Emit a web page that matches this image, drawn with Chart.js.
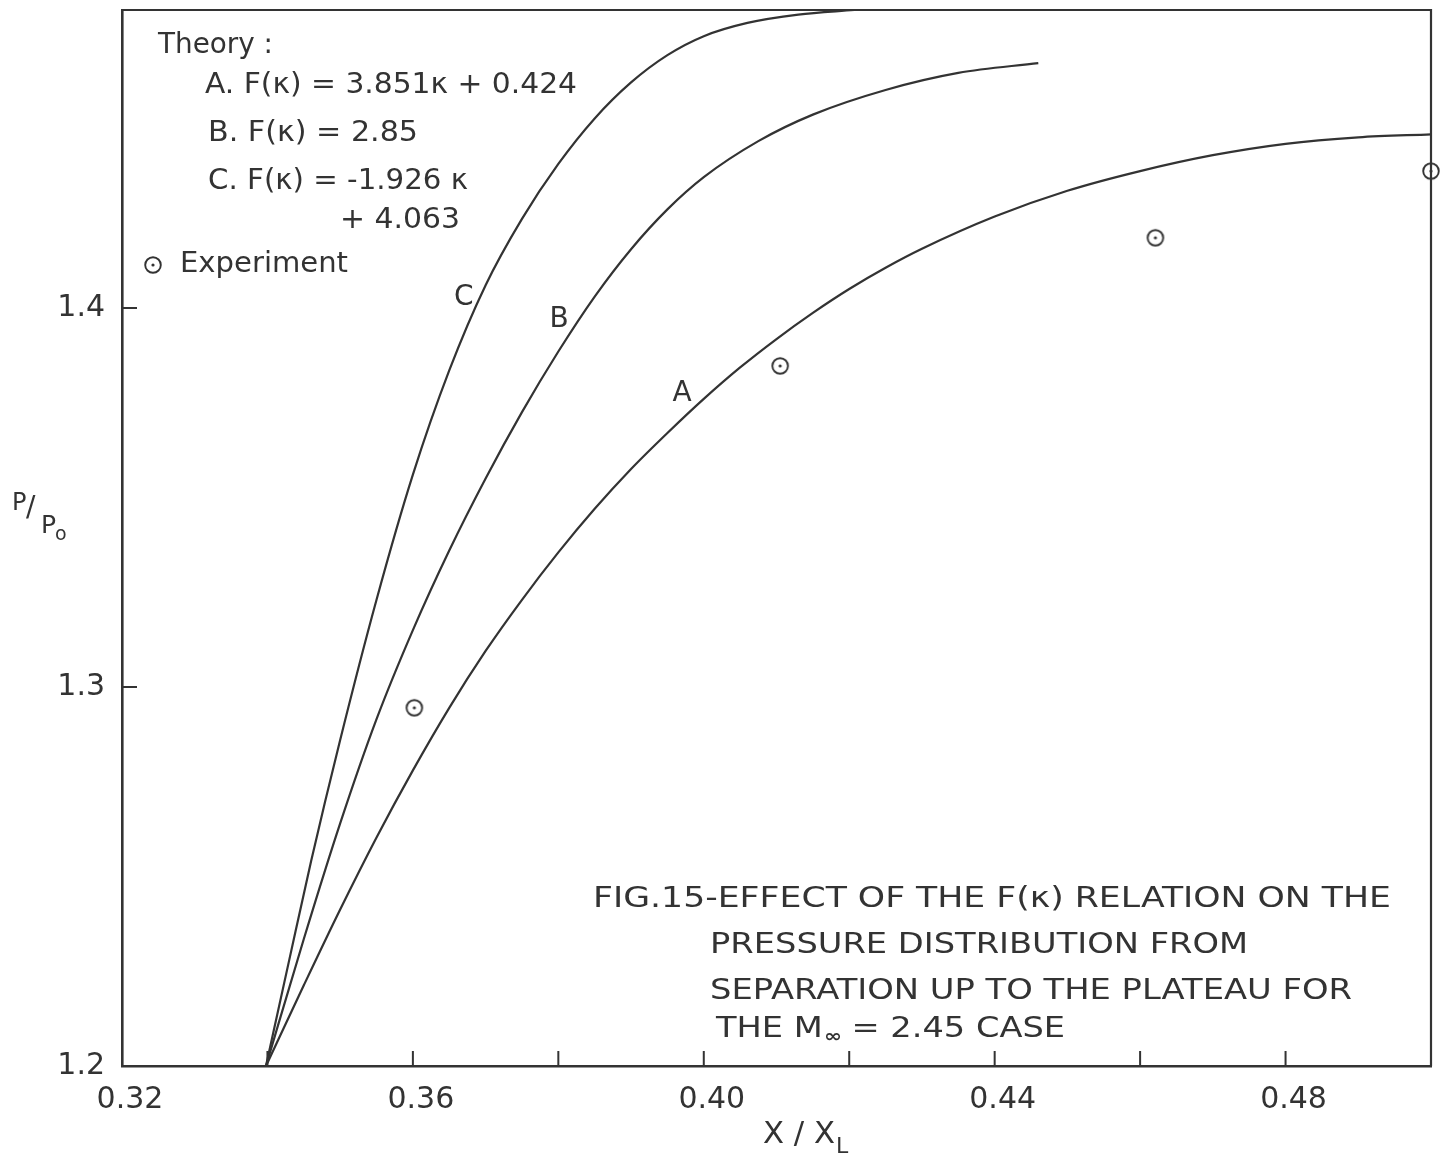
<!DOCTYPE html>
<html>
<head>
<meta charset="utf-8">
<title>Fig. 15 — Effect of the F(κ) relation on the pressure distribution</title>
<script src="https://cdn.jsdelivr.net/npm/chart.js@4.4.1/dist/chart.umd.min.js"></script>
<style>
  html, body { margin: 0; padding: 0; background: #ffffff; }
  #wrap { width: 1442px; height: 1158px; position: relative; }
</style>
</head>
<body>
<div id="wrap"><canvas id="chart" width="1442" height="1158"></canvas></div>
<script>
// ---- data: P/P0 against X/XL ----
const xTickLabels = [0.32, 0.36, 0.40, 0.44, 0.48];
const yTickLabels = [1.2, 1.3, 1.4];

// Theory, curve A: F(κ) = 3.851κ + 0.424
const curveA_x = [0.3398, 0.3450, 0.3500, 0.3550, 0.3600, 0.3650, 0.3700, 0.3750, 0.3800, 0.3850, 0.3900, 0.3950, 0.4000, 0.4050, 0.4100, 0.4150, 0.4200, 0.4250, 0.4300, 0.4400, 0.4500, 0.4600, 0.4700, 0.4800, 0.4900, 0.5000];
const curveA_y = [1.2000, 1.2213, 1.2413, 1.2603, 1.2780, 1.2945, 1.3095, 1.3230, 1.3355, 1.3470, 1.3575, 1.3670, 1.3760, 1.3843, 1.3918, 1.3987, 1.4050, 1.4106, 1.4156, 1.4241, 1.4309, 1.4361, 1.4403, 1.4433, 1.4450, 1.4458];

// Theory, curve B: F(κ) = 2.85
const curveB_x = [0.3398, 0.3450, 0.3500, 0.3550, 0.3600, 0.3650, 0.3700, 0.3750, 0.3800, 0.3850, 0.3900, 0.3950, 0.4000, 0.4075, 0.4150, 0.4250, 0.4350, 0.4460];
const curveB_y = [1.2000, 1.2335, 1.2640, 1.2915, 1.3150, 1.3360, 1.3550, 1.3725, 1.3885, 1.4030, 1.4155, 1.4260, 1.4345, 1.4440, 1.4510, 1.4575, 1.4620, 1.4646];

// Theory, curve C: F(κ) = -1.926κ + 4.063
const curveC_x = [0.3398, 0.3430, 0.3460, 0.3500, 0.3550, 0.3600, 0.3650, 0.3700, 0.3750, 0.3800, 0.3850, 0.3900, 0.3950, 0.4000, 0.4060, 0.4130, 0.4207];
const curveC_y = [1.2000, 1.2280, 1.2540, 1.2860, 1.3230, 1.3560, 1.3835, 1.4060, 1.4235, 1.4380, 1.4500, 1.4595, 1.4667, 1.4717, 1.4752, 1.4774, 1.4786];

// Experiment
const expX = [0.3602, 0.4105, 0.4621, 0.5000];
const expY = [1.2945, 1.3847, 1.4185, 1.4361];

// ---- styling ----
const INK = '#333333';
const FONT = '"DejaVu Sans", "Liberation Sans", sans-serif';

const toPoints = (xs, ys) => xs.map((x, i) => ({ x: x, y: ys[i] }));

// circle-with-dot marker for the experimental points
const marker = document.createElement('canvas');
marker.width = 22; marker.height = 22;
(function () {
  const g = marker.getContext('2d');
  g.strokeStyle = INK; g.lineWidth = 1.9;
  g.beginPath(); g.arc(11, 11, 7.8, 0, Math.PI * 2); g.stroke();
  g.fillStyle = INK;
  g.beginPath(); g.arc(11, 11, 1.6, 0, Math.PI * 2); g.fill();
})();

const near = (v, list) => list.some(t => Math.abs(t - v) < 1e-6);

// text drawn to a set width (hand-lettered look is slightly condensed/expanded)
function fitText(ctx, str, x, y, w) {
  const m = ctx.measureText(str).width;
  ctx.save();
  ctx.translate(x, y);
  ctx.scale(w / m, 1);
  ctx.fillText(str, 0, 0);
  ctx.restore();
}

// frame on top/right and inward tick marks
const framePlugin = {
  id: 'frameTicks',
  afterDatasetsDraw(chart) {
    const { ctx, chartArea: a, scales } = chart;
    ctx.save();
    ctx.strokeStyle = INK;
    ctx.lineWidth = 2.2;
    ctx.beginPath();
    ctx.moveTo(a.left, a.top); ctx.lineTo(a.right, a.top); ctx.lineTo(a.right, a.bottom);
    ctx.stroke();
    ctx.lineWidth = 2;
    ctx.beginPath();
    scales.x.ticks.forEach(t => {
      if (t.value > scales.x.min + 1e-6 && t.value < scales.x.max - 1e-6) {
        const px = scales.x.getPixelForValue(t.value);
        ctx.moveTo(px, a.bottom); ctx.lineTo(px, a.bottom - 15);
      }
    });
    scales.y.ticks.forEach(t => {
      if (t.value > scales.y.min + 1e-6 && t.value < scales.y.max - 1e-6) {
        const py = scales.y.getPixelForValue(t.value);
        ctx.moveTo(a.left, py); ctx.lineTo(a.left + 15, py);
      }
    });
    ctx.stroke();
    ctx.restore();
  }
};

// legend, curve letters, axis titles and figure caption
const textPlugin = {
  id: 'figureText',
  afterDraw(chart) {
    const { ctx, scales } = chart;
    ctx.save();
    ctx.fillStyle = INK;
    ctx.textBaseline = 'alphabetic';
    ctx.textAlign = 'left';

    // legend block
    ctx.font = '28px ' + FONT;
    fitText(ctx, 'Theory :', 158, 53, 115);
    fitText(ctx, 'A. F(κ) = 3.851κ + 0.424', 205, 93, 372);
    fitText(ctx, 'B. F(κ) = 2.85', 208, 141, 210);
    fitText(ctx, 'C. F(κ) = -1.926 κ', 208, 189, 260);
    fitText(ctx, '+ 4.063', 340, 228, 120);
    ctx.drawImage(marker, 153 - 11, 265 - 11);
    fitText(ctx, 'Experiment', 180, 272, 168);

    // curve letters, placed in data coordinates
    ctx.font = '28px ' + FONT;
    ctx.textAlign = 'center';
    ctx.textBaseline = 'middle';
    const lab = (s, x, y) => ctx.fillText(s, scales.x.getPixelForValue(x), scales.y.getPixelForValue(y));
    lab('C', 0.3670, 1.4026);
    lab('B', 0.3801, 1.3968);
    lab('A', 0.3970, 1.3773);

    // axis titles
    ctx.textAlign = 'left';
    ctx.textBaseline = 'alphabetic';
    ctx.font = '30px ' + FONT;
    fitText(ctx, 'X / X', 763, 1143, 72);
    ctx.font = '22px ' + FONT;
    ctx.fillText('L', 836, 1153);

    ctx.font = '24px ' + FONT;
    ctx.fillText('P', 12, 510);
    ctx.font = '28px ' + FONT;
    ctx.fillText('/', 26, 516);
    ctx.font = '25px ' + FONT;
    ctx.fillText('P', 41, 533);
    ctx.font = '19px ' + FONT;
    ctx.fillText('o', 55, 540);

    // caption
    ctx.font = '28px ' + FONT;
    fitText(ctx, 'FIG.15-EFFECT OF THE F(κ) RELATION ON THE', 593, 907, 798);
    fitText(ctx, 'PRESSURE DISTRIBUTION FROM', 710, 953, 538);
    fitText(ctx, 'SEPARATION UP TO THE PLATEAU FOR', 710, 999, 642);
    // last line with the subscripted M∞
    ctx.font = '28px ' + FONT;
    const s1 = 'THE M', s3 = ' = 2.45 CASE';
    const w1 = ctx.measureText(s1).width, w3 = ctx.measureText(s3).width;
    ctx.font = 'bold 18px ' + FONT;
    const w2 = ctx.measureText('∞').width;
    const k = 349 / (w1 + w2 + w3);
    ctx.save();
    ctx.translate(716, 1037);
    ctx.scale(k, 1);
    ctx.font = '28px ' + FONT;
    ctx.fillText(s1, 0, 0);
    ctx.font = 'bold 18px ' + FONT;
    ctx.fillText('∞', w1 + 1, 5);
    ctx.font = '28px ' + FONT;
    ctx.fillText(s3, w1 + w2, 0);
    ctx.restore();

    ctx.restore();
  }
};

const lineStyle = {
  type: 'scatter',
  showLine: true,
  borderColor: INK,
  borderWidth: 2.2,
  pointRadius: 0,
  fill: false,
  cubicInterpolationMode: 'monotone'
};

new Chart(document.getElementById('chart'), {
  type: 'scatter',
  data: {
    datasets: [
      Object.assign({ label: 'A', data: toPoints(curveA_x, curveA_y) }, lineStyle),
      Object.assign({ label: 'B', data: toPoints(curveB_x, curveB_y) }, lineStyle),
      Object.assign({ label: 'C', data: toPoints(curveC_x, curveC_y) }, lineStyle),
      {
        label: 'Experiment',
        data: toPoints(expX, expY),
        showLine: false,
        pointStyle: marker,
        pointRadius: 9,
        clip: false
      }
    ]
  },
  options: {
    responsive: false,
    animation: false,
    devicePixelRatio: 1,
    layout: { padding: { left: 0, right: 11, top: 10, bottom: 0 } },
    plugins: { legend: { display: false }, tooltip: { enabled: false }, title: { display: false } },
    scales: {
      x: {
        type: 'linear',
        min: 0.32,
        max: 0.50,
        grid: { display: false, drawTicks: false },
        border: { display: true, color: INK, width: 2.6 },
        ticks: {
          stepSize: 0.02,
          autoSkip: false,
          maxRotation: 0,
          padding: 16,
          labelOffset: 8,
          color: INK,
          font: { family: FONT, size: 30 },
          callback: v => near(v, xTickLabels) ? v.toFixed(2) : ''
        },
        afterFit: s => { s.height = 92; s.paddingLeft = 0; s.paddingRight = 0; }
      },
      y: {
        type: 'linear',
        min: 1.2,
        max: 1.4786,
        grid: { display: false, drawTicks: false },
        border: { display: true, color: INK, width: 2.6 },
        ticks: {
          stepSize: 0.1,
          autoSkip: false,
          padding: 17,
          color: INK,
          font: { family: FONT, size: 30 },
          callback: v => near(v, yTickLabels) ? v.toFixed(1) : ''
        },
        afterFit: s => { s.width = 122; s.paddingTop = 0; s.paddingBottom = 0; }
      }
    }
  },
  plugins: [framePlugin, textPlugin]
});
</script>
</body>
</html>
